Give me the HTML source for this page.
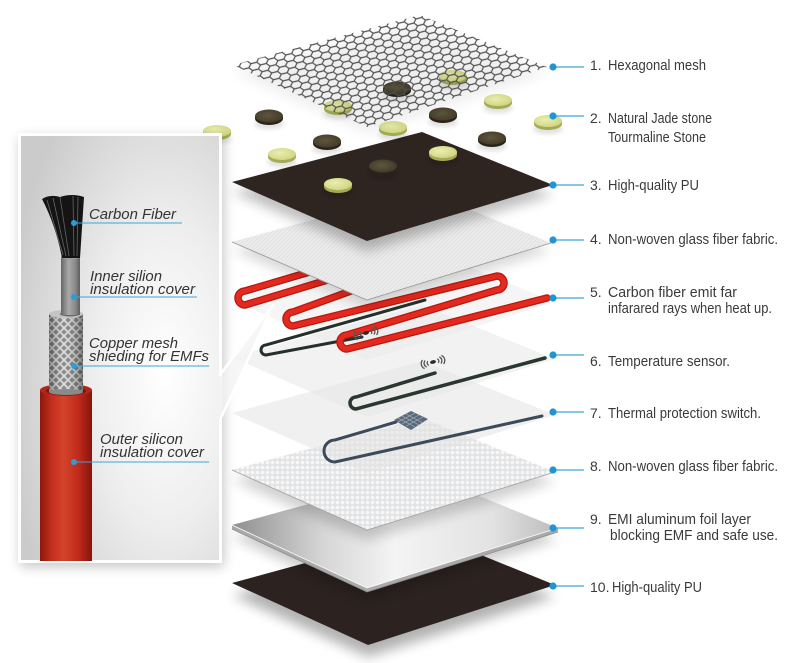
<!DOCTYPE html>
<html><head><meta charset="utf-8"><style>
html,body{margin:0;padding:0;background:#fff;}
svg{display:block}
</style></head><body>
<svg width="800" height="663" viewBox="0 0 800 663" xmlns="http://www.w3.org/2000/svg" font-family="'Liberation Sans', Arial, sans-serif">
<defs>
 <filter id="sh" x="-30%" y="-30%" width="160%" height="160%"><feGaussianBlur stdDeviation="6"/></filter>
 <filter id="sh2" x="-30%" y="-30%" width="160%" height="160%"><feGaussianBlur stdDeviation="2.5"/></filter>
 <radialGradient id="pg" cx="0.72" cy="0.56" r="0.78">
   <stop offset="0" stop-color="#ffffff"/>
   <stop offset="0.45" stop-color="#eeeeee"/>
   <stop offset="1" stop-color="#cbcbcb"/>
 </radialGradient>
 <pattern id="hex" width="18" height="7" patternUnits="userSpaceOnUse" patternTransform="rotate(-14)">
   <path d="M0,3.5 L3,0 L9,0 L12,3.5 L9,7 L3,7 Z M12,3.5 L18,3.5" fill="none" stroke="#4f4f4f" stroke-width="1.2"/>
 </pattern>
 <clipPath id="meshclip"><polygon points="233,65 420,15 547,67 367,127"/></clipPath>
 <pattern id="t4" width="4" height="4" patternUnits="userSpaceOnUse"><rect width="4" height="4" fill="#ebebeb"/><path d="M0,4 L4,0" stroke="#dedede" stroke-width="0.7"/></pattern>
 <pattern id="t8" width="5" height="5" patternUnits="userSpaceOnUse"><rect width="5" height="5" fill="#d8dadb"/><circle cx="2.5" cy="2.5" r="1.8" fill="#f5f5f5"/></pattern>
 <linearGradient id="al" x1="0" y1="0" x2="1" y2="0">
   <stop offset="0" stop-color="#8f8f8f"/>
   <stop offset="0.28" stop-color="#d6d6d6"/>
   <stop offset="0.5" stop-color="#f4f4f4"/>
   <stop offset="0.8" stop-color="#e2e2e2"/>
   <stop offset="1" stop-color="#bcbcbc"/>
 </linearGradient>
 <linearGradient id="red" x1="0" y1="0" x2="1" y2="0">
   <stop offset="0" stop-color="#8e160e"/>
   <stop offset="0.22" stop-color="#c22e1d"/>
   <stop offset="0.45" stop-color="#d4432c"/>
   <stop offset="0.75" stop-color="#bf2919"/>
   <stop offset="1" stop-color="#86140c"/>
 </linearGradient>
 <linearGradient id="gray" x1="0" y1="0" x2="1" y2="0">
   <stop offset="0" stop-color="#666"/>
   <stop offset="0.4" stop-color="#a9a9a9"/>
   <stop offset="0.75" stop-color="#8a8a8a"/>
   <stop offset="1" stop-color="#5e5e5e"/>
 </linearGradient>
 <linearGradient id="brdshade" x1="0" y1="0" x2="1" y2="0">
   <stop offset="0" stop-color="#000" stop-opacity="0.35"/>
   <stop offset="0.45" stop-color="#fff" stop-opacity="0.15"/>
   <stop offset="1" stop-color="#000" stop-opacity="0.4"/>
 </linearGradient>
 <pattern id="braid" width="8" height="8" patternUnits="userSpaceOnUse">
   <rect width="8" height="8" fill="#7a7a7a"/>
   <path d="M0,0 L4,4 L0,8 M8,0 L4,4 L8,8" stroke="#dadada" stroke-width="1.7" fill="none"/>
 </pattern>
 <radialGradient id="lst" cx="0.4" cy="0.4" r="0.7"><stop offset="0" stop-color="#eaeeb0"/><stop offset="1" stop-color="#cdd37c"/></radialGradient>
 <radialGradient id="dst" cx="0.45" cy="0.45" r="0.7"><stop offset="0" stop-color="#5f563e"/><stop offset="1" stop-color="#3d3524"/></radialGradient>
 <g id="ls">
   <ellipse cx="0" cy="8" rx="15" ry="5" fill="#000" opacity="0.12" filter="url(#sh2)"/>
   <ellipse cx="0" cy="3" rx="14" ry="6" fill="#a4aa55"/>
   <rect x="-14" y="0" width="28" height="3" fill="#a4aa55"/>
   <ellipse cx="0" cy="0" rx="14" ry="6" fill="url(#lst)"/>
 </g>
 <g id="ds">
   <ellipse cx="0" cy="8" rx="15" ry="5" fill="#000" opacity="0.12" filter="url(#sh2)"/>
   <ellipse cx="0" cy="2.5" rx="14" ry="6.5" fill="#29231a"/>
   <rect x="-14" y="0" width="28" height="2.5" fill="#29231a"/>
   <ellipse cx="0" cy="0" rx="14" ry="6.5" fill="url(#dst)"/>
 </g>
 <g id="wifi" fill="none" stroke="#555" stroke-width="1.3">
   <path d="M-4.9,-2.2 A6,3.9 0 0 0 -4.9,2.2 M4.9,-2.2 A6,3.9 0 0 1 4.9,2.2"/>
   <path d="M-7.4,-3.4 A9,5.85 0 0 0 -7.4,3.4 M7.4,-3.4 A9,5.85 0 0 1 7.4,3.4"/>
   <path d="M-9.8,-4.5 A12,7.8 0 0 0 -9.8,4.5 M9.8,-4.5 A12,7.8 0 0 1 9.8,4.5"/>
   <ellipse cx="0" cy="0" rx="3" ry="1.8" fill="#2b2b2b" stroke="none"/>
 </g>
</defs>

<rect width="800" height="663" fill="#fff"/>

<!-- Layer 10 -->
<polygon points="232,595 422,543 555,597 368,657" fill="#000" opacity="0.3" filter="url(#sh)"/>
<polygon points="232,583 422,531 555,585 368,645" fill="#2c2320"/>

<!-- Layer 9 aluminum -->
<polygon points="232,537 422,485 558,540 367,600" fill="#000" opacity="0.2" filter="url(#sh)"/>
<polygon points="232,525 367,588 558,528 558,532 367,592 232,529" fill="#aaaaaa"/>
<polygon points="232,525 422,473 558,528 367,588" fill="url(#al)"/>
<polyline points="232,525 367,588 558,528" fill="none" stroke="#fff" stroke-width="0.8"/>
<polyline points="232,529 367,592 558,532" fill="none" stroke="#8c8c8c" stroke-width="0.8"/>

<!-- Layer 8 -->
<polygon points="232,480 422,428 555,482 367,540" fill="#000" opacity="0.18" filter="url(#sh)"/>
<polygon points="232,470 422,418 555,472 367,530" fill="url(#t8)"/>
<polygon points="232,470 422,418 555,472 367,530" fill="#fff" opacity="0.25"/>
<polyline points="232,470 367,530 555,472" fill="none" stroke="#a5a5a5" stroke-width="0.9"/>

<!-- Layer 7 sheet + wire -->
<polygon points="232,413 422,361 555,415 367,473" fill="#e4e4e4" opacity="0.55"/>
<path d="M542,416 L335,462 A11,11 0 0 1 335,440 L396,422" fill="none" stroke="#3c4a5a" stroke-width="3" stroke-linecap="round"/>
<polygon points="394,420 411,411 428,419 411,430" fill="#5b6a7b"/>
<path d="M398,418 L415,427 M402,416 L419,425 M406,414 L423,423 M398,422 L415,413 M402,424 L419,415 M406,426 L423,417" stroke="#a9b4c0" stroke-width="0.7"/>

<!-- Layer 6 sheet + wire -->
<polygon points="232,357 422,305 555,359 367,417" fill="#e6e6e6" opacity="0.5"/>
<path d="M545,358 L356,409 A6,6 0 0 1 356,397 L435,373" fill="none" stroke="#29372f" stroke-width="3.5" stroke-linecap="round"/>
<use href="#wifi" transform="translate(433,362) rotate(-14)"/>

<!-- Layer 5 sheet + wires -->
<polygon points="232,300 422,248 555,302 367,360" fill="#e8e8e8" opacity="0.45"/>
<path d="M425,300 L266,345 A5,5 0 0 0 266,355 L362,337" fill="none" stroke="#25302b" stroke-width="3" stroke-linecap="round"/>
<path d="M330,266 L245,291 A7,7 0 0 0 245,305 L420,252 A7,7 0 0 1 420,266 L293,312 A7,7 0 0 0 293,326 L497,276 A7,7 0 0 1 497,290 L347,335 A7,7 0 0 0 347,349 L547,298" fill="none" stroke="#b51910" stroke-width="7.5" stroke-linecap="round" stroke-linejoin="round"/>
<path d="M330,266 L245,291 A7,7 0 0 0 245,305 L420,252 A7,7 0 0 1 420,266 L293,312 A7,7 0 0 0 293,326 L497,276 A7,7 0 0 1 497,290 L347,335 A7,7 0 0 0 347,349 L547,298" fill="none" stroke="#e5291f" stroke-width="5" stroke-linecap="round" stroke-linejoin="round"/>
<use href="#wifi" transform="translate(366,333) rotate(-14)"/>

<!-- Layer 4 -->
<polygon points="232,250 422,198 551,251 367,308" fill="#000" opacity="0.15" filter="url(#sh)"/>
<polygon points="232,242 422,190 551,243 367,300" fill="url(#t4)"/>
<polyline points="232,242 367,300 551,243" fill="none" stroke="#9c9c9c" stroke-width="0.9"/>

<!-- Layer 3 brown PU -->
<polygon points="232,192 422,142 553,195 367,251" fill="#000" opacity="0.25" filter="url(#sh)"/>
<polygon points="232,182 422,132 553,185 367,241" fill="#2e2420"/>

<!-- Stones -->
<use href="#ls" x="217" y="131"/>
<use href="#ds" x="269" y="116"/>
<use href="#ds" x="327" y="141"/>
<use href="#ds" x="443" y="114"/>
<use href="#ds" x="492" y="138"/>
<use href="#ls" x="498" y="100"/>
<use href="#ls" x="548" y="121"/>
<use href="#ls" x="393" y="127"/>
<use href="#ls" x="282" y="154"/>
<use href="#ls" x="443" y="152"/>
<use href="#ds" x="383" y="166"/>
<use href="#ls" x="338" y="184"/>
<use href="#ls" x="338" y="106"/>
<use href="#ds" x="397" y="88"/>
<use href="#ls" x="453" y="76"/>

<!-- Layer 1 mesh -->
<polygon points="233,72 420,22 547,74 367,134" fill="#000" opacity="0.06" filter="url(#sh)"/>
<g clip-path="url(#meshclip)">
  <rect x="200" y="0" width="380" height="150" fill="url(#hex)"/>
</g>

<!-- Left panel -->
<rect x="20" y="137" width="204" height="430" fill="#000" opacity="0.22" filter="url(#sh)"/>
<rect x="18" y="133" width="204" height="430" fill="url(#pg)"/>
<polygon points="219,376 274,304 220,420" fill="#f3f3f3" opacity="0.75"/>
<path d="M220.5,376 V134.5 H19.5 V561.5 H220.5 V420" fill="none" stroke="#fff" stroke-width="3"/>
<path d="M219,376 L274,304 M220,420 L270,312" stroke="#fff" stroke-width="2.5" fill="none"/>

<!-- Cable -->
<rect x="40" y="390" width="52" height="171" fill="url(#red)"/>
<ellipse cx="66" cy="390" rx="26" ry="6" fill="#b02818"/>
<ellipse cx="66" cy="391" rx="20" ry="4.5" fill="#741710"/>
<rect x="49" y="314" width="34" height="78" fill="url(#braid)"/>
<rect x="49" y="314" width="34" height="78" fill="url(#brdshade)"/>
<ellipse cx="66" cy="392" rx="17" ry="3" fill="#8a8a8a"/>
<ellipse cx="66" cy="314" rx="17" ry="4" fill="#c4c4c4"/>
<ellipse cx="70" cy="314" rx="10" ry="2.5" fill="#6a6a6a"/>
<rect x="61" y="257" width="19" height="58" fill="url(#gray)"/>
<ellipse cx="70.5" cy="257" rx="9.5" ry="2.5" fill="#9a9a9a"/>
<path d="M42,199 Q50,194 60,197 Q72,193 84,197 L80,258 L62,258 Q56,226 42,199 Z" fill="#141414"/>
<path d="M47,200 L63,255 M53,198 L66,256 M60,197 L69,256 M73,196 L74,256 M78,197 L77,256" stroke="#666" stroke-width="0.8" fill="none"/>

<!-- Left labels -->
<g font-style="italic" font-size="15" fill="#333">
  <text x="89" y="219" textLength="87" lengthAdjust="spacingAndGlyphs">Carbon Fiber</text>
  <text x="90" y="281" textLength="72" lengthAdjust="spacingAndGlyphs">Inner silion</text>
  <text x="90" y="294" textLength="105" lengthAdjust="spacingAndGlyphs">insulation cover</text>
  <text x="89" y="348" textLength="89" lengthAdjust="spacingAndGlyphs">Copper mesh</text>
  <text x="89" y="361" textLength="120" lengthAdjust="spacingAndGlyphs">shieding for EMFs</text>
  <text x="100" y="444" textLength="83" lengthAdjust="spacingAndGlyphs">Outer silicon</text>
  <text x="100" y="457" textLength="104" lengthAdjust="spacingAndGlyphs">insulation cover</text>
</g>
<g stroke="#3aa6da" stroke-width="1.1">
  <line x1="74" y1="223" x2="182" y2="223"/>
  <line x1="74" y1="297" x2="197" y2="297"/>
  <line x1="74" y1="366" x2="209" y2="366"/>
  <line x1="74" y1="462" x2="209" y2="462"/>
</g>
<g fill="#2a9ed9">
  <circle cx="74" cy="223" r="3"/>
  <circle cx="74" cy="297" r="3"/>
  <circle cx="74" cy="366" r="3"/>
  <circle cx="74" cy="462" r="3"/>
</g>

<!-- Right labels -->
<g stroke="#3aa6da" stroke-width="1.3">
  <line x1="553" y1="67" x2="584" y2="67"/>
  <line x1="553" y1="116" x2="584" y2="116"/>
  <line x1="553" y1="185" x2="584" y2="185"/>
  <line x1="553" y1="240" x2="584" y2="240"/>
  <line x1="553" y1="298" x2="584" y2="298"/>
  <line x1="553" y1="355" x2="584" y2="355"/>
  <line x1="553" y1="412" x2="584" y2="412"/>
  <line x1="553" y1="470" x2="584" y2="470"/>
  <line x1="553" y1="528" x2="584" y2="528"/>
  <line x1="553" y1="586" x2="584" y2="586"/>
</g>
<g fill="#1e95d6">
  <circle cx="553" cy="67" r="3.6"/>
  <circle cx="553" cy="116" r="3.6"/>
  <circle cx="553" cy="185" r="3.6"/>
  <circle cx="553" cy="240" r="3.6"/>
  <circle cx="553" cy="298" r="3.6"/>
  <circle cx="553" cy="355" r="3.6"/>
  <circle cx="553" cy="412" r="3.6"/>
  <circle cx="553" cy="470" r="3.6"/>
  <circle cx="553" cy="528" r="3.6"/>
  <circle cx="553" cy="586" r="3.6"/>
</g>
<g font-size="15" fill="#3a3a3a">
  <text x="590" y="70" font-size="14">1.</text>
  <text x="608" y="70" textLength="98" lengthAdjust="spacingAndGlyphs">Hexagonal mesh</text>
  <text x="590" y="123" font-size="14">2.</text>
  <text x="608" y="123" textLength="104" lengthAdjust="spacingAndGlyphs">Natural Jade stone</text>
  <text x="608" y="142" textLength="98" lengthAdjust="spacingAndGlyphs">Tourmaline Stone</text>
  <text x="590" y="190" font-size="14">3.</text>
  <text x="608" y="190" textLength="91" lengthAdjust="spacingAndGlyphs">High-quality PU</text>
  <text x="590" y="244" font-size="14">4.</text>
  <text x="608" y="244" textLength="170" lengthAdjust="spacingAndGlyphs">Non-woven glass fiber fabric.</text>
  <text x="590" y="297" font-size="14">5.</text>
  <text x="608" y="297" textLength="129" lengthAdjust="spacingAndGlyphs">Carbon fiber emit far</text>
  <text x="608" y="313" textLength="164" lengthAdjust="spacingAndGlyphs">infarared rays when heat up.</text>
  <text x="590" y="366" font-size="14">6.</text>
  <text x="608" y="366" textLength="122" lengthAdjust="spacingAndGlyphs">Temperature sensor.</text>
  <text x="590" y="418" font-size="14">7.</text>
  <text x="608" y="418" textLength="153" lengthAdjust="spacingAndGlyphs">Thermal protection switch.</text>
  <text x="590" y="471" font-size="14">8.</text>
  <text x="608" y="471" textLength="170" lengthAdjust="spacingAndGlyphs">Non-woven glass fiber fabric.</text>
  <text x="590" y="524" font-size="14">9.</text>
  <text x="608" y="524" textLength="143" lengthAdjust="spacingAndGlyphs">EMI aluminum foil layer</text>
  <text x="610" y="540" textLength="168" lengthAdjust="spacingAndGlyphs">blocking EMF and safe use.</text>
  <text x="590" y="592" font-size="14">10.</text>
  <text x="612" y="592" textLength="90" lengthAdjust="spacingAndGlyphs">High-quality PU</text>
</g>
</svg>
</body></html>
